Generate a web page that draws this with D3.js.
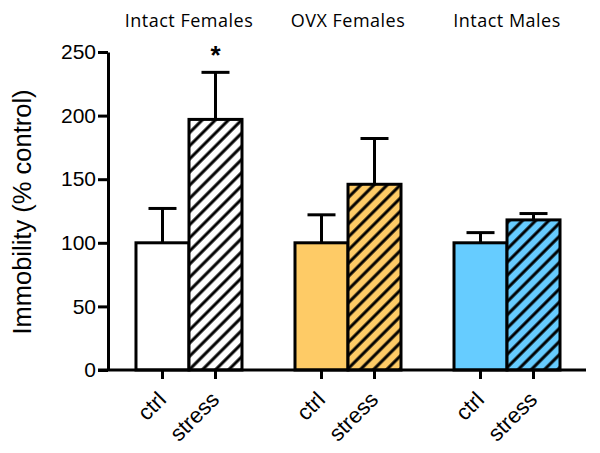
<!DOCTYPE html>
<html>
<head>
<meta charset="utf-8">
<script src="https://cdn.jsdelivr.net/npm/d3@7"></script>
<style>
  body { margin: 0; background: #fff; }
  svg { display: block; }
</style>
</head>
<body>
<div id="chart"></div>
<script>
// groups, conditions and values
let groups = ["Intact Females", "OVX Females", "Intact Males"]
let conditions = ["ctrl", "stress"]
let groupColors = ["#ffffff", "#fecb66", "#66ccff"]
let meanCtrl = [100, 100, 100]
let meanStress = [197, 146, 118]
let errCtrl = [127, 122, 108]
let errStress = [234, 182, 123]
let yTicks = [0, 50, 100, 150, 200, 250]
let starGroup = "Intact Females"

var width = 600,
    height = 453

var svg = d3.select("#chart")
    .append("svg")
    .attr("width", width)
    .attr("height", height)

// hatch pattern for the stress bars
var defs = svg.append("defs")
groupColors.forEach((c, i) => {
    var p = defs.append("pattern")
        .attr("id", "hatch" + i)
        .attr("patternUnits", "userSpaceOnUse")
        .attr("width", 9.3)
        .attr("height", 9.3)
        .attr("patternTransform", "rotate(45)")
    p.append("rect")
        .attr("width", 9.3)
        .attr("height", 9.3)
        .attr("fill", c)
    p.append("line")
        .attr("x1", 4.65).attr("y1", 0)
        .attr("x2", 4.65).attr("y2", 9.3)
        .attr("stroke", "#000")
        .attr("stroke-width", 3)
})

var x = d3.scaleBand()
    .domain(groups)
    .range([108, 588])
    .paddingInner(1 / 3)
    .paddingOuter(0.176)

var xInner = d3.scaleBand()
    .domain(conditions)
    .range([0, x.bandwidth()])

var y = d3.scaleLinear()
    .domain([0, 250])
    .range([370, 52])

var rows = []
groups.forEach((g, i) => {
    rows.push({ group: g, cond: "ctrl", mean: meanCtrl[i], err: errCtrl[i], gi: i })
    rows.push({ group: g, cond: "stress", mean: meanStress[i], err: errStress[i], gi: i })
})

// error bars (upper only), drawn behind bars
var eb = svg.append("g")
    .attr("stroke", "#000")
    .attr("stroke-width", 3)
rows.forEach((d) => {
    var cx = x(d.group) + xInner(d.cond) + xInner.bandwidth() / 2
    eb.append("line")
        .attr("x1", cx).attr("x2", cx)
        .attr("y1", y(d.mean)).attr("y2", y(d.err))
    eb.append("line")
        .attr("x1", cx - 14).attr("x2", cx + 14)
        .attr("y1", y(d.err)).attr("y2", y(d.err))
})

// bars
svg.append("g")
    .selectAll("rect")
    .data(rows)
    .enter()
    .append("rect")
    .attr("x", (d) => x(d.group) + xInner(d.cond))
    .attr("y", (d) => y(d.mean))
    .attr("width", xInner.bandwidth())
    .attr("height", (d) => y(0) - y(d.mean))
    .attr("fill", (d) => d.cond == "stress" ? "url(#hatch" + d.gi + ")" : groupColors[d.gi])
    .attr("stroke", "#000")
    .attr("stroke-width", 3)

// y axis
var yAxis = svg.append("g")
    .attr("transform", "translate(108,0)")
    .call(d3.axisLeft(y).tickValues(yTicks).tickSize(10).tickSizeOuter(0).tickPadding(2))
yAxis.select(".domain").attr("stroke-width", 3).attr("stroke", "#000")
yAxis.selectAll(".tick line").attr("stroke-width", 3).attr("stroke", "#000")
yAxis.selectAll(".tick text")
    .attr("font-family", "Liberation Sans, Arial, sans-serif")
    .attr("font-size", 21)
    .attr("fill", "#000")

// x axis line
svg.append("line")
    .attr("x1", 98).attr("x2", 586)
    .attr("y1", y(0)).attr("y2", y(0))
    .attr("stroke", "#000")
    .attr("stroke-width", 3)

// x ticks and rotated labels
var xt = svg.append("g")
rows.forEach((d) => {
    var cx = x(d.group) + xInner(d.cond) + xInner.bandwidth() / 2
    xt.append("line")
        .attr("x1", cx).attr("x2", cx)
        .attr("y1", y(0)).attr("y2", y(0) + 9)
        .attr("stroke", "#000")
        .attr("stroke-width", 3)
    xt.append("text")
        .attr("transform", "translate(" + (cx + 5) + "," + (y(0) + 31) + ") rotate(-45)")
        .attr("text-anchor", "end")
        .attr("font-family", "Liberation Sans, Arial, sans-serif")
        .attr("font-size", 22)
        .text(d.cond)
})

// group titles
svg.append("g")
    .selectAll("text")
    .data(groups)
    .enter()
    .append("text")
    .attr("x", (d) => x(d) + x.bandwidth() / 2)
    .attr("y", 27)
    .attr("text-anchor", "middle")
    .attr("font-family", "Open Sans, sans-serif")
    .attr("font-size", 18)
    .attr("letter-spacing", 0.5)
    .text((d) => d)

// significance star
svg.append("text")
    .attr("x", x(starGroup) + xInner("stress") + xInner.bandwidth() / 2)
    .attr("y", 64)
    .attr("text-anchor", "middle")
    .attr("font-family", "Liberation Sans, Arial, sans-serif")
    .attr("font-weight", "bold")
    .attr("font-size", 26)
    .text("*")

// y title
svg.append("text")
    .attr("transform", "translate(31,212) rotate(-90)")
    .attr("text-anchor", "middle")
    .attr("font-family", "Liberation Sans, Arial, sans-serif")
    .attr("font-size", 25.5)
    .text("Immobility (% control)")
</script>
</body>
</html>
